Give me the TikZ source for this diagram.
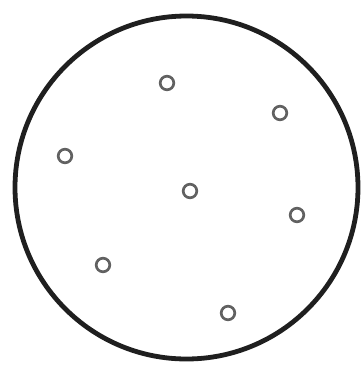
\documentclass[tikz,border=0pt]{standalone}
\usepackage{tikz}
\begin{document}
\begin{tikzpicture}[x=0.75pt,y=-0.75pt]
\useasboundingbox (0,0) rectangle (364,368);
\draw[black!88, line width=3.6pt] (186.5,187.5) circle (171.5);
\draw[black!62, line width=2pt] (167,83) circle (6.8);
\draw[black!62, line width=2pt] (280,113) circle (6.8);
\draw[black!62, line width=2pt] (65,156) circle (6.8);
\draw[black!62, line width=2pt] (190,191) circle (6.8);
\draw[black!62, line width=2pt] (297,215) circle (6.8);
\draw[black!62, line width=2pt] (103,265) circle (6.8);
\draw[black!62, line width=2pt] (228,313) circle (6.8);
\end{tikzpicture}
\end{document}
